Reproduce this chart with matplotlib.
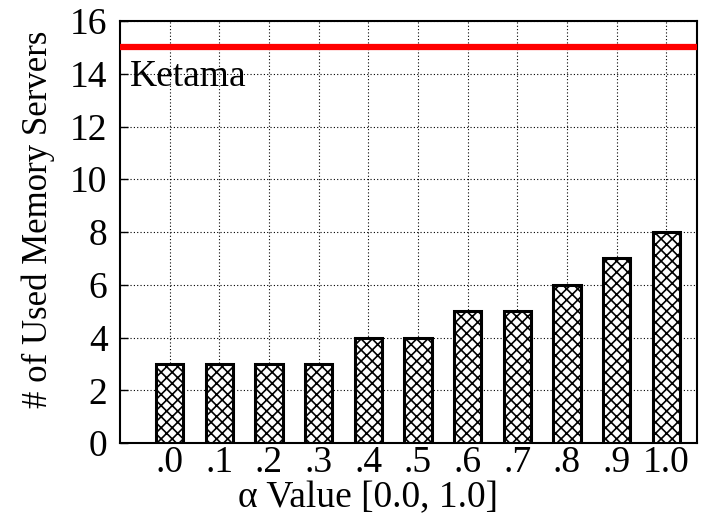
import matplotlib
matplotlib.use('Agg')
import matplotlib.pyplot as plt

alpha_labels = ['.0', '.1', '.2', '.3', '.4', '.5', '.6', '.7', '.8', '.9', '1.0']
used_servers = [3, 3, 3, 3, 4, 4, 5, 5, 6, 7, 8]
ketama_servers = 15

plt.rcParams['font.family'] = ['Liberation Serif', 'DejaVu Serif']
plt.rcParams['hatch.linewidth'] = 1.2

fig = plt.figure(figsize=(7.11, 5.18), dpi=100)
ax = fig.add_axes([120 / 711, 1 - 443 / 518, 577 / 711, 422 / 518])

x = list(range(len(alpha_labels)))
ax.bar(x, used_servers, width=0.55, color='white', edgecolor='black',
       linewidth=2.2, hatch='xxx', zorder=3)
ax.axhline(ketama_servers, color='red', linewidth=4.5, zorder=4)
ax.text(-0.8, ketama_servers - 1.1, 'Ketama', fontsize=27, va='center', ha='left', zorder=5)

ax.set_xlim(-1, 10.62)
ax.set_ylim(0, 16)
ax.set_xticks(x)
ax.set_xticklabels(alpha_labels)
ax.set_yticks(range(0, 17, 2))
ax.tick_params(axis='both', labelsize=27, direction='in')
ax.tick_params(axis='x', length=0, pad=2)
ax.tick_params(axis='y', length=6, width=1, pad=9)
ax.grid(True, linestyle=(0, (1, 2)), color='black', linewidth=0.8, zorder=0)
for s in ax.spines.values():
    s.set_linewidth(1.5)

ax.set_xlabel('\u03b1 Value [0.0, 1.0]', fontsize=27)
ax.xaxis.set_label_coords(0.43, -0.09, transform=ax.transAxes)
ax.xaxis.label.set_va('top')
ax.set_ylabel('# of Used Memory Servers', fontsize=25)
ax.yaxis.set_label_coords(-0.112, 0.53, transform=ax.transAxes)

fig.savefig('out.png', dpi=100)
